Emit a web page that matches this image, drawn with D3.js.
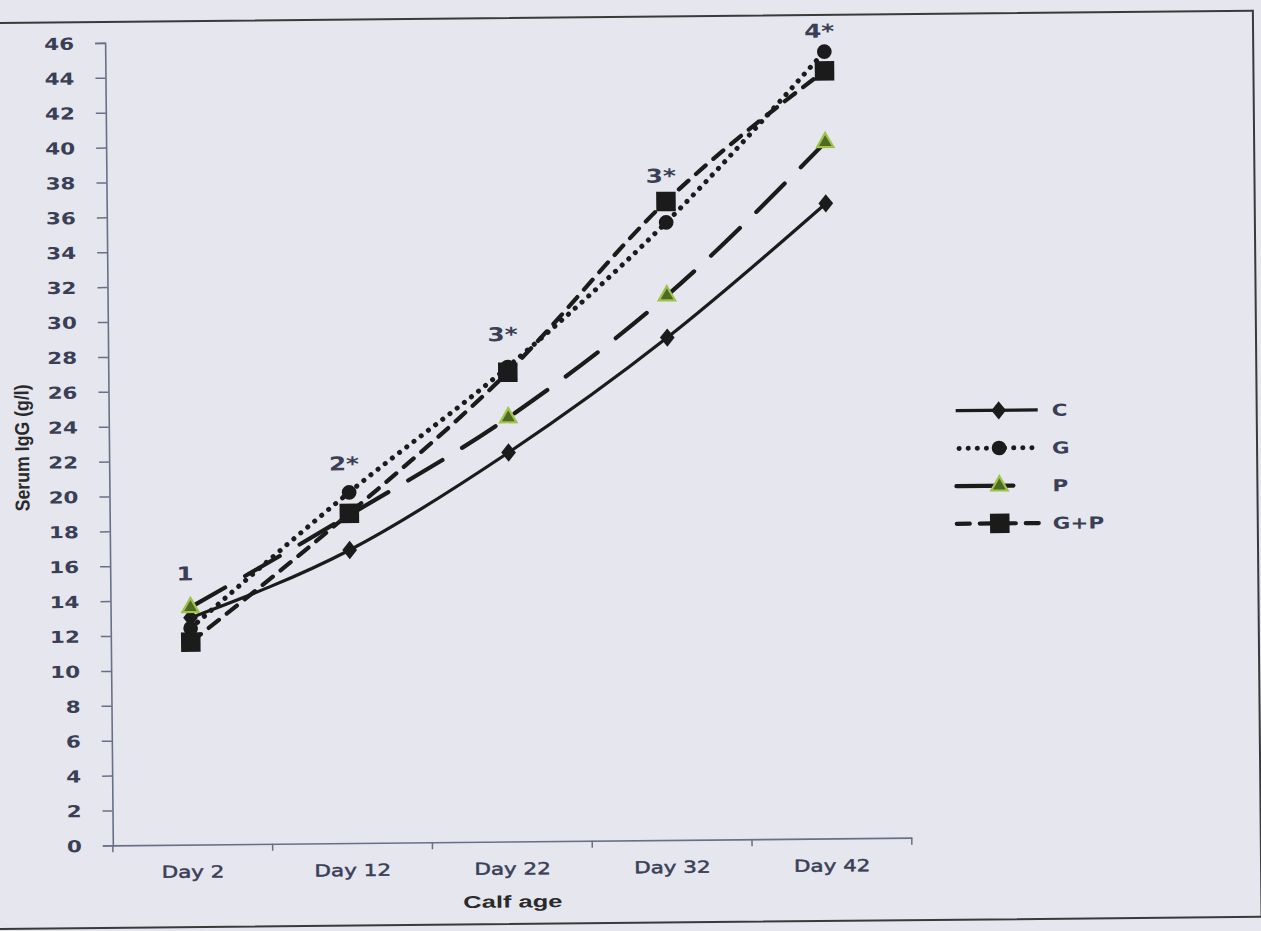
<!DOCTYPE html>
<html>
<head>
<meta charset="utf-8">
<script src="https://cdn.jsdelivr.net/npm/d3@7/dist/d3.min.js"></script>
<style>
  html, body { margin: 0; padding: 0; background: #e5e6ee; }
  svg { display: block; }
</style>
</head>
<body>
<script>
// Serum IgG (g/l) by calf age for four treatments
const categories = ["Day 2", "Day 12", "Day 22", "Day 32", "Day 42"];
const seriesNames = ["C", "G", "P", "G+P"];
const valuesC  = [13.0, 16.8, 22.3, 28.8, 36.4];
const valuesG  = [12.4, 20.1, 27.2, 35.4, 45.1];
const valuesP  = [13.6, 18.8, 24.3, 31.2, 39.9];
const valuesGP = [11.6, 18.9, 26.9, 36.6, 44.0];
const significance = ["1", "2*", "3*", "3*", "4*"];
const yTickValues = d3.range(0, 47, 2);

const W = 1261, H = 931;
const ink = "#1b1b1b";
const textColor = "#3a3f56";
const stretch = 1.3;
// gap (px) between the highest marker of a day and its significance label
const labelGap = [27, 22, 26, 19, 14];

const svg = d3.select("body").append("svg")
  .attr("width", W).attr("height", H);

svg.append("rect").attr("width", W).attr("height", H).attr("fill", "#e5e6ee");

// whole page sits slightly tilted
const root = svg.append("g").attr("transform", "rotate(-0.55, 510, 445)");

// frame
root.append("rect")
  .attr("x", -30).attr("y", 18).attr("width", 1287).attr("height", 906)
  .attr("fill", "none").attr("stroke", "#3a3a3a").attr("stroke-width", 2);

const x = d3.scaleBand().domain(categories).range([109, 908]);
const xc = c => x(c) + x.bandwidth() / 2;
const y = d3.scaleLinear().domain([0, 46]).range([841.5, 39]);

// y axis
const yAxis = root.append("g")
  .attr("transform", `translate(${x.range()[0]},0)`)
  .call(d3.axisLeft(y).tickValues(yTickValues).tickSize(10).tickSizeOuter(10));
yAxis.select(".domain").attr("stroke", "#687089").attr("stroke-width", 1.6);
yAxis.selectAll(".tick line").attr("stroke", "#687089").attr("stroke-width", 1.5);
yAxis.selectAll(".tick text")
  .attr("x", null).attr("dy", "0.36em")
  .attr("transform", `translate(-31,0) scale(${stretch},1)`)
  .attr("text-anchor", "end")
  .attr("fill", textColor)
  .style("font-family", "DejaVu Sans").style("font-weight", "bold").style("font-size", "16.5px");

// x axis
const xAxis = root.append("g")
  .attr("transform", `translate(0,${y(0)})`)
  .call(d3.axisBottom(x).tickSize(0).tickSizeOuter(0));
xAxis.select(".domain").attr("stroke", "#687089").attr("stroke-width", 1.6);
xAxis.selectAll(".tick text")
  .attr("y", null).attr("dy", null)
  .attr("transform", `translate(0,33) scale(${stretch},1)`)
  .attr("fill", textColor)
  .attr("stroke", textColor).attr("stroke-width", 0.5)
  .style("font-family", "DejaVu Sans").style("font-size", "16.5px");
// category boundary ticks
const bounds = categories.map(c => x(c)).concat([x.range()[1]]);
xAxis.selectAll(".bound").data(bounds).join("line")
  .attr("class", "bound")
  .attr("x1", d => d).attr("x2", d => d).attr("y1", 0).attr("y2", 7)
  .attr("stroke", "#687089").attr("stroke-width", 1.5);

// axis titles
root.append("text")
  .attr("transform", `translate(${xc("Day 22")},${y(0) + 66}) scale(1.5,1)`)
  .attr("text-anchor", "middle")
  .attr("fill", "#2a2a2a")
  .style("font-family", "Liberation Sans").style("font-weight", "bold").style("font-size", "17px")
  .text("Calf age");

root.append("text")
  .attr("transform", `translate(29,${(y(0) + y(46)) / 2 + 3}) rotate(-90) scale(1,1.25)`)
  .attr("text-anchor", "middle")
  .attr("textLength", 127).attr("lengthAdjust", "spacingAndGlyphs")
  .attr("fill", "#2a2a2a")
  .style("font-family", "Liberation Sans").style("font-weight", "bold").style("font-size", "16px")
  .text("Serum IgG (g/l)");

// series styles
const series = [
  { name: seriesNames[0], values: valuesC,  dash: null,      width: 3.2, marker: "diamond" },
  { name: seriesNames[1], values: valuesG,  dash: "0.1,9",   width: 5,   marker: "circle" },
  { name: seriesNames[2], values: valuesP,  dash: "40,23",   width: 4.2, marker: "triangle" },
  { name: seriesNames[3], values: valuesGP, dash: "13,10",   width: 4.2, marker: "square" }
];

const symbolFor = {
  diamond:  { type: d3.symbolDiamond,  size: 120 },
  circle:   { type: d3.symbolCircle,   size: 170 },
  triangle: { type: d3.symbolTriangle, size: 115 },
  square:   { type: d3.symbolSquare,   size: 380 }
};

function drawMarker(g, kind, cx, cy) {
  const s = symbolFor[kind];
  const p = g.append("path")
    .attr("d", d3.symbol().type(s.type).size(s.size)())
    .attr("transform", `translate(${cx},${cy})` + (kind === "diamond" ? " scale(1.25,0.9)" : ""));
  if (kind === "triangle") {
    p.attr("fill", "#4f6a22").attr("stroke", "#9cc34a").attr("stroke-width", 2.2);
  } else {
    p.attr("fill", ink);
  }
}

const line = d3.line().curve(d3.curveMonotoneX);
const plot = root.append("g");

series.forEach(s => {
  const pts = categories.map((c, i) => [xc(c), y(s.values[i])]);
  const path = plot.append("path")
    .attr("d", line(pts))
    .attr("fill", "none")
    .attr("stroke", ink)
    .attr("stroke-width", s.width)
    .attr("stroke-linecap", "round");
  if (s.dash) path.attr("stroke-dasharray", s.dash);
});

series.forEach(s => {
  categories.forEach((c, i) => drawMarker(plot, s.marker, xc(c), y(s.values[i])));
});

// significance labels above each day
categories.forEach((c, i) => {
  const top = d3.max(series, s => s.values[i]);
  root.append("text")
    .attr("transform", `translate(${xc(c) - 5},${y(top) - labelGap[i]}) scale(${stretch},1)`)
    .attr("text-anchor", "middle")
    .attr("fill", "#3a3f56")
    .style("font-family", "DejaVu Sans").style("font-weight", "bold").style("font-size", "19px")
    .text(significance[i]);
});

// legend
const legend = root.append("g").attr("transform", "translate(956,415)");
series.forEach((s, i) => {
  const row = legend.append("g").attr("transform", `translate(0,${i * 37.7})`);
  const len = s.marker === "triangle" ? 57 : 82;
  const l = row.append("line")
    .attr("x1", 0).attr("x2", len).attr("y1", 0).attr("y2", 0)
    .attr("stroke", ink).attr("stroke-width", s.width)
    .attr("stroke-linecap", s.dash ? "round" : "butt");
  if (s.dash) l.attr("stroke-dasharray", s.marker === "triangle" ? "57,20" : s.dash);
  if (s.marker === "circle") l.attr("stroke-dashoffset", -3);
  drawMarker(row, s.marker, 43, 0);
  row.append("text")
    .attr("transform", `translate(96,0) scale(${stretch},1)`)
    .attr("dy", "0.36em")
    .attr("fill", textColor)
    .style("font-family", "DejaVu Sans").style("font-weight", "bold").style("font-size", "16.5px")
    .text(s.name);
});
</script>
</body>
</html>
